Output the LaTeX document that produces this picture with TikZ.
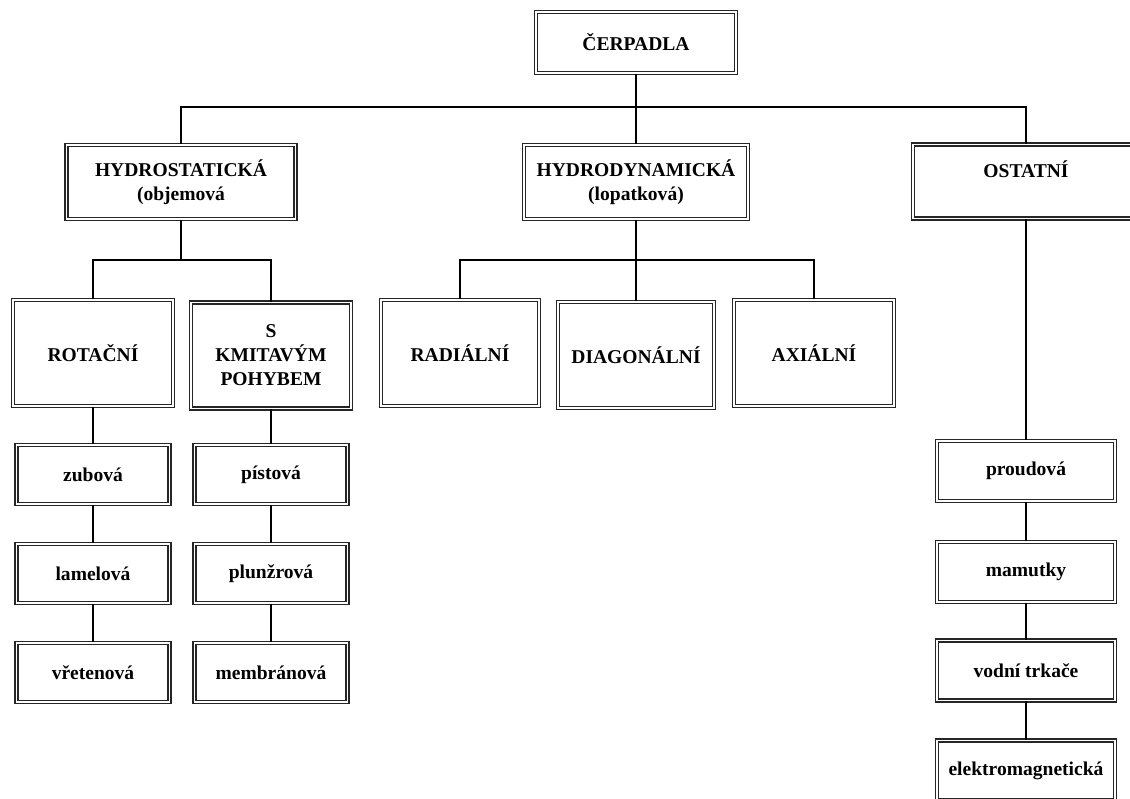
\documentclass[tikz,border=0pt]{standalone}
\usepackage{fontspec}
\setmainfont{Liberation Serif}

\begin{document}

\begin{tikzpicture}[x=0.025cm, y=-0.025cm,
    box/.style={draw=black!85, double, double distance=0.8pt, line width=1.1pt,
                fill=white, align=center, inner sep=2pt,
                font=\fontsize{13.9}{17}\selectfont\bfseries},
    big box/.style={box, minimum width=4cm, minimum height=2.65cm},
    leaf box/.style={box, minimum width=3.825cm, minimum height=1.475cm},
    other box/.style={box, minimum width=4.45cm, minimum height=1.5cm},
    conn/.style={line width=1.7pt}]

\useasboundingbox[fill=white] (0,0) rectangle (1130,798);

\node[box, minimum width=5cm, minimum height=1.525cm](cerpadla) at (636,42.5) {ČERPADLA};

\node[box, minimum width=5.725cm, minimum height=1.85cm](hydrostat) at (181,182) {HYDROSTATICKÁ\\(objemová};
\node[box, minimum width=5.6cm, minimum height=1.85cm](hydrodyn) at (636,182) {HYDRODYNAMICKÁ\\(lopatková)};
\node[box, minimum width=5.65cm, minimum height=1.85cm](ostatni) at (1026,181.5) {OSTATNÍ\\~};

\node[big box](rotacni) at (93,353) {ROTAČNÍ};
\node[big box](kmitavy) at (271,355.5) {S\\KMITAVÝM\\POHYBEM};
\node[big box, minimum width=3.95cm](radialni) at (460,353) {RADIÁLNÍ};
\node[big box, minimum width=3.9cm](diagonalni) at (636,355) {DIAGONÁLNÍ};
\node[big box](axialni) at (814,353) {AXIÁLNÍ};

\node[leaf box](zubova) at (93,474.5) {zubová};
\node[leaf box](lamelova) at (93,573.5) {lamelová};
\node[leaf box](vretenova) at (93,672.5) {vřetenová};

\node[leaf box](pistova) at (271,474.5) {pístová};
\node[leaf box](plunzrova) at (271,573.5) {plunžrová};
\node[leaf box](membranova) at (271,672.5) {membránová};

\node[other box](proudova) at (1026,471) {proudová};
\node[other box](mamutky) at (1026,572) {mamutky};
\node[other box](vodni) at (1026,670.5) {vodní trkače};
\node[other box](elektro) at (1026,770.5) {elektromagnetická};

\coordinate (bus1) at (636,107);
\coordinate (bus2) at (181,260);
\coordinate (bus3) at (636,260);

\draw[conn] (cerpadla) -- (hydrodyn);
\draw[conn] (hydrostat.north) |- (bus1) -| (ostatni.north);

\draw[conn] (hydrostat) -- (bus2);
\draw[conn] (rotacni.north) |- (bus2) -| (kmitavy.north);

\draw[conn] (hydrodyn) -- (diagonalni);
\draw[conn] (radialni.north) |- (bus3) -| (axialni.north);

\draw[conn] (rotacni) -- (zubova) -- (lamelova) -- (vretenova);
\draw[conn] (kmitavy) -- (pistova) -- (plunzrova) -- (membranova);
\draw[conn] (ostatni) -- (proudova) -- (mamutky) -- (vodni) -- (elektro);

\end{tikzpicture}

\end{document}
